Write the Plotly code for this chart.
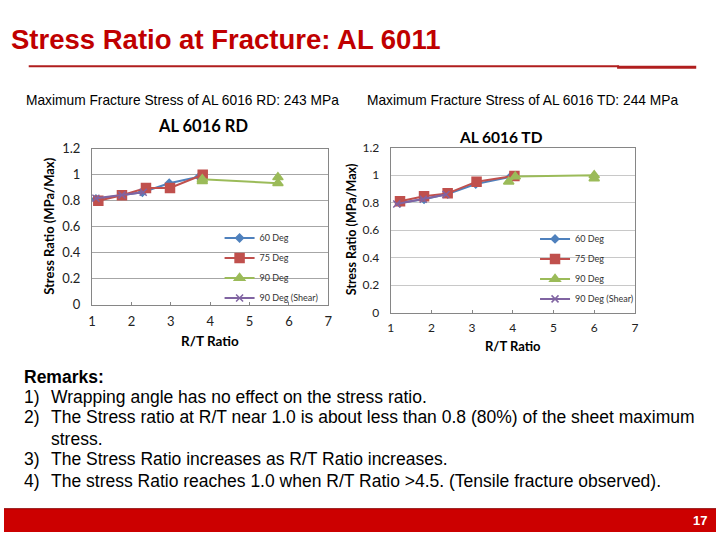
import plotly.graph_objects as go

W, H = 720, 540

# ---------------- data ----------------
rd_60_x = [1.10, 1.76, 2.28, 2.96, 3.72]
rd_60_y = [0.813, 0.843, 0.866, 0.935, 0.985]
rd_75_x = [1.16, 1.76, 2.37, 2.98, 3.81]
rd_75_y = [0.800, 0.843, 0.898, 0.898, 1.000]
rd_90_x = [3.80, 3.80, 5.72, 5.72]
rd_90_y = [0.950, 0.965, 0.935, 0.980]
rd_sh_x = [1.10, 1.76, 2.30]
rd_sh_y = [0.820, 0.845, 0.865]

td_60_x = [1.23, 1.82, 2.40, 3.09, 3.94]
td_60_y = [0.800, 0.825, 0.863, 0.936, 0.988]
td_75_x = [1.23, 1.82, 2.40, 3.11, 4.04]
td_75_y = [0.810, 0.847, 0.868, 0.953, 0.995]
td_90_x = [3.90, 4.06, 6.00, 6.00]
td_90_y = [0.953, 0.990, 1.000, 0.976]
td_sh_x = [1.15, 1.80, 2.36]
td_sh_y = [0.790, 0.825, 0.860]

series_names = ["60 Deg", "75 Deg", "90 Deg", "90 Deg (Shear)"]
x_ticks = [1, 2, 3, 4, 5, 6, 7]
y_ticks = [0, 0.2, 0.4, 0.6, 0.8, 1, 1.2]
y_tick_text = ["0", "0.2", "0.4", "0.6", "0.8", "1", "1.2"]

remarks = [
    ("1)", "Wrapping angle has no effect on the stress ratio."),
    ("2)", "The Stress ratio at R/T near 1.0 is about less than 0.8 (80%) of the sheet maximum"),
    ("", "stress."),
    ("3)", "The Stress Ratio increases as R/T Ratio increases."),
    ("4)", "The stress Ratio reaches 1.0 when R/T Ratio >4.5. (Tensile fracture observed)."),
]

# ---------------- styles ----------------
colors = ["#4F81BD", "#C0504D", "#9BBB59", "#8064A2"]
symbols = ["diamond", "square", "triangle-up", "x-thin-open"]
sizes = [6, 9, 9, 7]
CF = "Lato, Carlito, sans-serif"
SF = "Liberation Sans, Arial, sans-serif"


def px(x):
    return x / W


def py(y):
    return 1 - y / H


fig = go.Figure()

rd_data = [(rd_60_x, rd_60_y), (rd_75_x, rd_75_y), (rd_90_x, rd_90_y), (rd_sh_x, rd_sh_y)]
td_data = [(td_60_x, td_60_y), (td_75_x, td_75_y), (td_90_x, td_90_y), (td_sh_x, td_sh_y)]

for i, (xs, ys) in enumerate(rd_data):
    fig.add_trace(go.Scatter(
        x=xs, y=ys, name=series_names[i], mode="lines+markers",
        line=dict(color=colors[i], width=2),
        marker=dict(color=colors[i], symbol=symbols[i], size=sizes[i],
                    line=dict(color=colors[i], width=1.5)),
        xaxis="x", yaxis="y", legend="legend", legendgroup="a%d" % i))

for i, (xs, ys) in enumerate(td_data):
    fig.add_trace(go.Scatter(
        x=xs, y=ys, name=series_names[i], mode="lines+markers",
        line=dict(color=colors[i], width=2),
        marker=dict(color=colors[i], symbol=symbols[i], size=sizes[i],
                    line=dict(color=colors[i], width=1.5)),
        xaxis="x2", yaxis="y2", legend="legend2", legendgroup="b%d" % i))


def xaxis(dom, anchor, fsize):
    return dict(domain=dom, anchor=anchor, range=[1, 7], tickvals=x_ticks,
                showgrid=False, zeroline=False, showline=True, mirror=True,
                linecolor="#868686", linewidth=1, ticks="inside", ticklen=3,
                tickcolor="#868686", ticklabelstandoff=4,
                tickfont=dict(family=CF, size=fsize, color="#222"))


def yaxis(dom, anchor, grid_col, fsize):
    return dict(domain=dom, anchor=anchor, range=[0, 1.2], tickvals=y_ticks,
                ticktext=y_tick_text, showgrid=True, gridcolor=grid_col,
                gridwidth=1, zeroline=False, showline=True, mirror=True,
                linecolor="#868686", linewidth=1, ticks="", ticklabelstandoff=8,
                tickfont=dict(family=CF, size=fsize, color="#222"))


shapes = [
    dict(type="line", xref="paper", yref="paper", x0=px(25), x1=px(622), y0=py(60), y1=py(60),
         line=dict(color="#B01E1E", width=2)),
    dict(type="line", xref="paper", yref="paper", x0=px(620), x1=px(700), y0=py(61), y1=py(61),
         line=dict(color="#B01E1E", width=3)),
    dict(type="rect", xref="paper", yref="paper", x0=0, x1=1, y0=0, y1=py(516),
         fillcolor="#CC0000", line=dict(width=0)),
    dict(type="line", xref="paper", yref="paper", x0=0, x1=1, y0=py(516), y1=py(516),
         line=dict(color="#8B0000", width=1)),
]

ann = []


def text(x, y, s, size, family=SF, color="#000", bold=False, xanchor="left", angle=0):
    ann.append(dict(xref="paper", yref="paper", x=px(x), y=py(y), text=("<b>%s</b>" % s) if bold else s,
                    showarrow=False, xanchor=xanchor, yanchor="middle", textangle=angle,
                    font=dict(family=family, size=size, color=color)))


text(5, 32, "Stress Ratio at Fracture: AL 6011", 27.5, color="#C00000", bold=True)
text(20, 95, "Maximum Fracture Stress of AL 6016 RD: 243 MPa", 13.75)
text(365, 95, "Maximum Fracture Stress of AL 6016 TD: 244 MPa", 13.75)

text(201, 122, "AL 6016 RD", 16.5, family=CF, bold=True, xanchor="center")
text(503, 133, "AL 6016 TD", 15.5, family=CF, bold=True, xanchor="center")
text(46, 225, "Stress Ratio (MPa/Max)", 13, family=CF, bold=True, xanchor="center", angle=-90)
text(351, 228, "Stress Ratio (MPa/Max)", 12.5, family=CF, bold=True, xanchor="center", angle=-90)
text(208, 343, "R/T Ratio", 13.5, family=CF, bold=True, xanchor="center")
text(515, 348, "R/T Ratio", 13, family=CF, bold=True, xanchor="center")

text(18, 380, "Remarks:", 17.5, bold=True)
ys = [401, 422, 444, 465, 487]
for (num, s), yy in zip(remarks, ys):
    if num:
        text(18, yy, num, 17.5)
    text(45, yy, s, 17.5)

text(713, 528, "17", 13, color="#FFFFFF", bold=True, xanchor="right")

legend_common = dict(bgcolor="rgba(0,0,0,0)", font=dict(family=CF, size=9, color="#333"),
                     itemwidth=30, tracegroupgap=1, xanchor="left", yanchor="top",
                     xref="paper", yref="paper")

fig.update_layout(
    width=W, height=H, margin=dict(l=0, r=0, t=0, b=0),
    paper_bgcolor="white", plot_bgcolor="white",
    xaxis=xaxis([px(89), px(328)], "y", 13),
    yaxis=yaxis([py(306), py(145)], "x", "#A6A6A6", 13),
    xaxis2=xaxis([px(391), px(638)], "y2", 12),
    yaxis2=yaxis([py(314), py(144)], "x2", "#C8C8C8", 12),
    legend=dict(x=px(218), y=py(222), **legend_common),
    legend2=dict(x=px(537), y=py(223), **legend_common),
    shapes=shapes, annotations=ann, showlegend=True,
)

fig.write_html("out.html")
